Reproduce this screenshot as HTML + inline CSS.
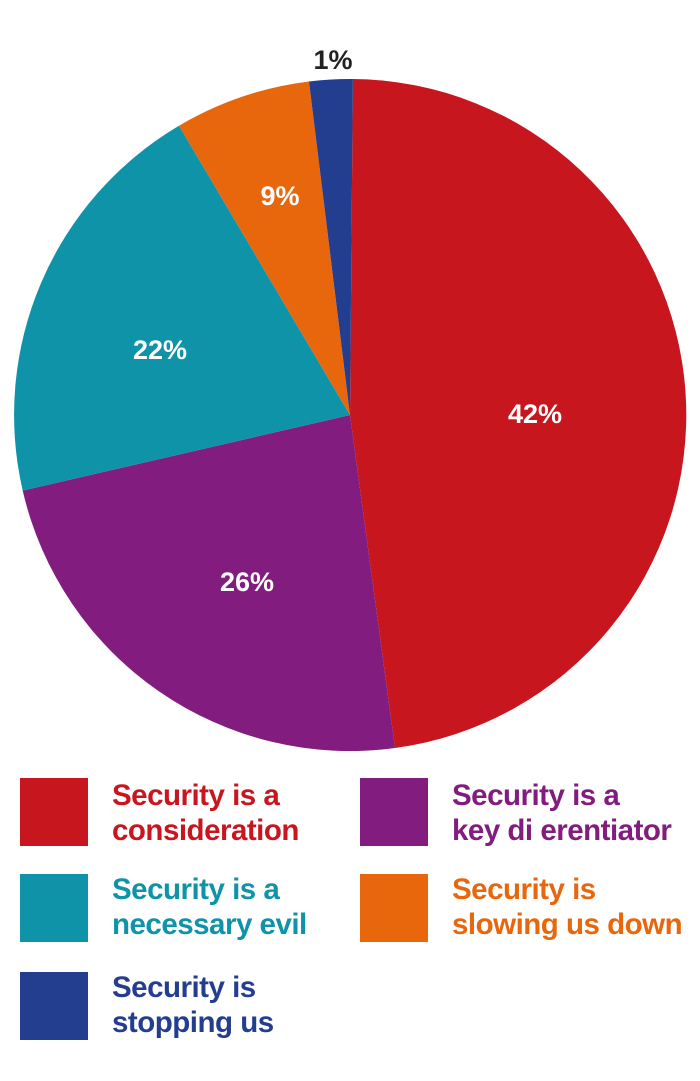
<!DOCTYPE html>
<html><head><style>
body{margin:0;background:#fff;width:700px;height:1081px;overflow:hidden;font-family:"Liberation Sans",sans-serif}
.sq{position:absolute;width:68px;height:68px}
.t{position:absolute;font-size:29.5px;font-weight:bold;line-height:35px;letter-spacing:-0.5px}
</style></head><body>
<svg width="700" height="760" style="position:absolute;left:0;top:0">
<path d="M350,415 L352.9,79 A336,336 0 0 1 395,748 Z" fill="#c8161e"/>
<path d="M350,415 L395,748 A336,336 0 0 1 22.7,490.6 Z" fill="#821c7e"/>
<path d="M350,415 L22.7,490.6 A336,336 0 0 1 179,125.7 Z" fill="#0f93a8"/>
<path d="M350,415 L179,125.7 A336,336 0 0 1 309,81.5 Z" fill="#e8670d"/>
<path d="M350,415 L309,81.5 A336,336 0 0 1 352.9,79 Z" fill="#233d8f"/>
<g font-family="Liberation Sans,sans-serif" font-weight="bold" font-size="27" text-anchor="middle" fill="#fff">
<text x="535" y="423">42%</text>
<text x="247" y="591">26%</text>
<text x="160" y="359">22%</text>
<text x="280" y="205">9%</text>
<text x="333" y="69" fill="#222">1%</text>
</g>
</svg>
<div class="sq" style="left:20px;top:778px;background:#c8161e"></div>
<div class="t" style="left:112px;top:778px;color:#c8161e">Security is a<br>consideration</div>
<div class="sq" style="left:360px;top:778px;background:#821c7e"></div>
<div class="t" style="left:452px;top:778px;color:#821c7e">Security is a<br>key di erentiator</div>
<div class="sq" style="left:20px;top:874px;background:#0f93a8"></div>
<div class="t" style="left:112px;top:872px;color:#0f93a8">Security is a<br>necessary evil</div>
<div class="sq" style="left:360px;top:874px;background:#e8670d"></div>
<div class="t" style="left:452px;top:872px;color:#e8670d">Security is<br>slowing us down</div>
<div class="sq" style="left:20px;top:972px;background:#233d8f"></div>
<div class="t" style="left:112px;top:970px;color:#233d8f">Security is<br>stopping us</div>
</body></html>
